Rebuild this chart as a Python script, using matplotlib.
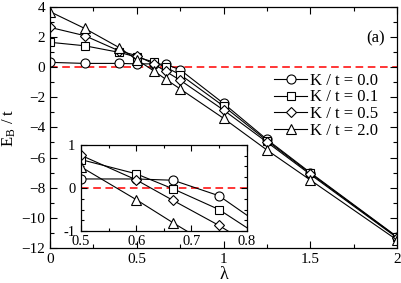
import matplotlib
matplotlib.use("Agg")
import matplotlib.pyplot as plt
from matplotlib.ticker import MultipleLocator

plt.rcParams['font.family'] = ['Liberation Serif', 'DejaVu Serif']
plt.rcParams['mathtext.fontset'] = 'stix'

lam = [0.0, 0.2, 0.4, 0.5, 0.6, 0.667, 0.75, 1.0, 1.25, 1.5, 2.0]
eb_k00 = [0.31, 0.24, 0.24, 0.21, 0.21, 0.18, -0.18, -2.41, -4.80, -7.00, -11.25]
eb_k01 = [1.64, 1.41, 0.97, 0.66, 0.33, -0.02, -0.50, -2.59, -4.88, -7.05, -11.28]
eb_k05 = [2.63, 2.08, 1.06, 0.76, 0.19, -0.29, -0.87, -2.85, -4.98, -7.12, -11.32]
eb_k20 = [3.67, 2.56, 1.28, 0.49, -0.27, -0.81, -1.45, -3.40, -5.50, -7.49, -11.47]
labels = ['K / t = 0.0', 'K / t = 0.1', 'K / t = 0.5', 'K / t = 2.0']
series = [eb_k00, eb_k01, eb_k05, eb_k20]
markers = ['o', 's', 'D', '^']
msizes = [6.5, 5.5, 5.0, 6.5]

fig = plt.figure(figsize=(4.02, 2.83), dpi=100)
ax = fig.add_axes([0.1244, 0.1237, 0.8632, 0.8526])

for ys, lab, m, ms in zip(series, labels, markers, msizes):
    ax.plot(lam, ys, color='black', lw=0.8, marker=m, ms=ms, mfc='white',
            mec='black', mew=0.8, label=lab)
ax.axhline(0, color='red', ls=(0, (5, 3)), lw=1.1, zorder=0.5)

ax.set_xlim(0, 2)
ax.set_ylim(-12, 4)
ax.xaxis.set_major_locator(MultipleLocator(0.5))
ax.xaxis.set_minor_locator(MultipleLocator(0.25))
ax.yaxis.set_major_locator(MultipleLocator(2))
ax.yaxis.set_minor_locator(MultipleLocator(1))
ax.set_xticks([0, 0.5, 1, 1.5, 2])
ax.set_xticklabels(['0', '0.5', '1', '1.5', '2'])
ax.tick_params(which='both', direction='in', top=True, right=True, labelsize=11)
ax.tick_params(which='major', length=5, width=0.8)
ax.tick_params(which='minor', length=3, width=0.8)
for s in ax.spines.values():
    s.set_linewidth(0.9)
ax.set_xlabel('λ', fontsize=13, labelpad=0)
ax.set_ylabel(r'E$_\mathregular{B}$ / t', fontsize=12, labelpad=2)
ax.text(0.965, 0.87, '(a)', transform=ax.transAxes, ha='right', va='center', fontsize=12)

leg = ax.legend(loc='upper right', bbox_to_anchor=(0.945, 0.727), frameon=False,
                fontsize=12, handlelength=2.0, handletextpad=0.15, labelspacing=0.05,
                borderaxespad=0, borderpad=0)

ins = fig.add_axes([0.2015, 0.1837, 0.4117, 0.304])
for ys, m, ms in zip(series, markers, msizes):
    ins.plot(lam, ys, color='black', lw=0.8, marker=m, ms=ms, mfc='white',
             mec='black', mew=0.8, clip_on=True)
ins.axhline(0, color='red', ls=(0, (5, 3)), lw=1.1, zorder=0.5)
ins.set_xlim(0.5, 0.8)
ins.set_ylim(-1, 1)
ins.xaxis.set_major_locator(MultipleLocator(0.1))
ins.xaxis.set_minor_locator(MultipleLocator(0.05))
ins.yaxis.set_major_locator(MultipleLocator(1))
ins.yaxis.set_minor_locator(MultipleLocator(0.25))
ins.set_xticks([0.5, 0.6, 0.7, 0.8])
ins.set_xticklabels(['0.5', '0.6', '0.7', '0.8'])
ins.set_yticks([-1, 0, 1])
ins.set_yticklabels(['-1', '0', '1'])
ins.tick_params(which='both', direction='in', top=True, right=True, labelsize=10.5)
ins.tick_params(axis='x', pad=3)
ins.tick_params(axis='y', pad=4)
ins.tick_params(which='major', length=4, width=0.8)
ins.tick_params(which='minor', length=2.5, width=0.8)
for s in ins.spines.values():
    s.set_linewidth(0.9)

fig.savefig('out.png', dpi=100)
